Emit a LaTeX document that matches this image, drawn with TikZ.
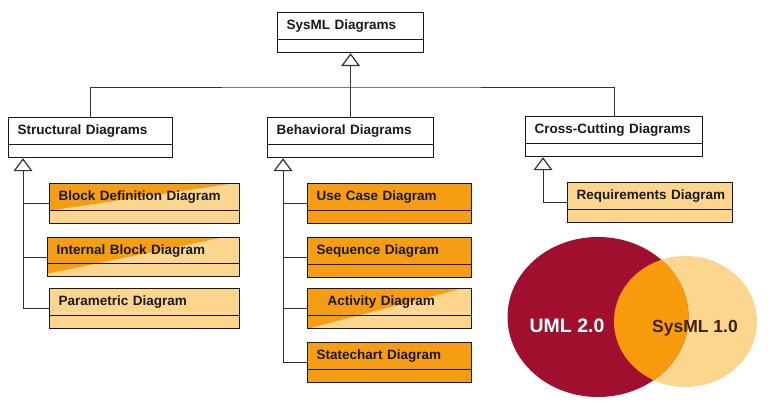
\documentclass[tikz,border=0pt]{standalone}
\usepackage{fontspec}
\setmainfont{Liberation Sans}
\usetikzlibrary{arrows.meta}

\definecolor{dunkelorange}{RGB}{247,157,20}
\definecolor{hellorange}{RGB}{252,214,142}
\definecolor{weinrot}{RGB}{160,16,46}
\definecolor{schnitt}{RGB}{248,156,14}
\definecolor{liniengrau}{RGB}{50,50,50}
\definecolor{braun}{RGB}{60,35,20}

% Trennlinie im Klassenkasten
\newcommand{\trenner}{\draw[line width=1.2pt]
  ([yshift=13pt]path picture bounding box.south west) --
  ([yshift=13pt]path picture bounding box.south east);}

\tikzset{
  klasse/.style={draw=black!90, line width=1.2pt, fill=white, anchor=north west,
    minimum height=40pt, inner xsep=9pt, inner ysep=0pt,
    text height=10pt, text depth=15.5pt, align=left, text=black!90,
    font=\fontsize{13.5}{16}\selectfont\bfseries, path picture={\trenner}},
  voll/.style={klasse, fill=dunkelorange},
  hell/.style={klasse, fill=hellorange},
  schraeg/.style 2 args={klasse, fill=hellorange, path picture={
    \fill[dunkelorange] (path picture bounding box.north west)
      -- ([xshift=-#1]path picture bounding box.north east)
      -- ([yshift=#2]path picture bounding box.south west) -- cycle;
    \trenner}},
  ast/.style={draw=liniengrau, line width=1pt},
  erbt/.style={ast, -{Triangle[open, length=13pt, width=19pt, line width=1.2pt]}},
}

\begin{document}
\begin{tikzpicture}[x=1pt, y=-1pt]
  \useasboundingbox (0,0) rectangle (768,420);

  % Wurzel
  \node[klasse, text width=128pt] (sysml) at (277,12) {SysML Diagrams};

  % Kategorien
  \node[klasse, text width=146pt] (struktur) at (8,117) {Structural Diagrams};
  \node[klasse, text width=148pt] (verhalten) at (267,117) {Behavioral Diagrams};
  \node[klasse, text width=159pt] (quer) at (525,116) {Cross-Cutting Diagrams};

  % Strukturdiagramme
  \node[schraeg={8pt}{13pt}, text width=172pt] (bdd) at (49,183) {Block Definition Diagram};
  \node[schraeg={18pt}{3pt}, text width=174pt, minimum height=39pt] (ibd) at (47,237) {Internal Block Diagram};
  \node[hell, text width=172pt] (par) at (49,288) {Parametric Diagram};

  % Verhaltensdiagramme
  \node[voll, text width=146pt] (uc) at (307,183) {Use Case Diagram};
  \node[voll, text width=146pt] (seq) at (307,237) {Sequence Diagram};
  \node[schraeg={10pt}{0pt}, text width=146pt] (act) at (307,288) {\hspace*{11pt}Activity Diagram};
  \node[voll, text width=146pt] (stm) at (307,342) {Statechart Diagram};

  % Querschnitt
  \node[hell, inner xsep=7pt, text width=151pt] (req) at (567,182) {\hspace*{2pt}Requirements Diagram};

  % Vererbung oben
  \coordinate (knoten) at (350,87);
  \draw[erbt] (verhalten.north) -- (sysml.south);
  \draw[ast] (struktur.north) |- (knoten) -| (quer.north);

  % Vererbung Struktur
  \coordinate (s) at ([xshift=15pt]struktur.south west);
  \draw[erbt] (par.west) -| (s);
  \draw[ast] (bdd.west) -- (bdd.west -| s);
  \draw[ast] (ibd.west) -- (ibd.west -| s);

  % Vererbung Verhalten
  \coordinate (v) at ([xshift=16pt]verhalten.south west);
  \draw[erbt] (stm.west) -| (v);
  \draw[ast] (uc.west) -- (uc.west -| v);
  \draw[ast] (seq.west) -- (seq.west -| v);
  \draw[ast] (act.west) -- (act.west -| v);

  % Vererbung Querschnitt
  \coordinate (q) at ([xshift=18pt]quer.south west);
  \draw[erbt] (req.west) -| (q);

  % Venn-Diagramm
  \fill[hellorange] (685.5,321.5) ellipse [x radius=71.5, y radius=65.5];
  \fill[weinrot] (598,317) ellipse [x radius=90.5, y radius=80];
  \begin{scope}
    \clip (685.5,321.5) ellipse [x radius=71.5, y radius=65.5];
    \fill[schnitt] (598,317) ellipse [x radius=90.5, y radius=80];
  \end{scope}
  \node[anchor=base, text=white, font=\fontsize{19.5}{22}\selectfont\bfseries] (uml) at (567,332) {UML 2.0};
  \node[anchor=base, text=braun, font=\fontsize{17.5}{22}\selectfont\bfseries] (sysmltxt) at (695,332) {SysML 1.0};
\end{tikzpicture}
\end{document}
